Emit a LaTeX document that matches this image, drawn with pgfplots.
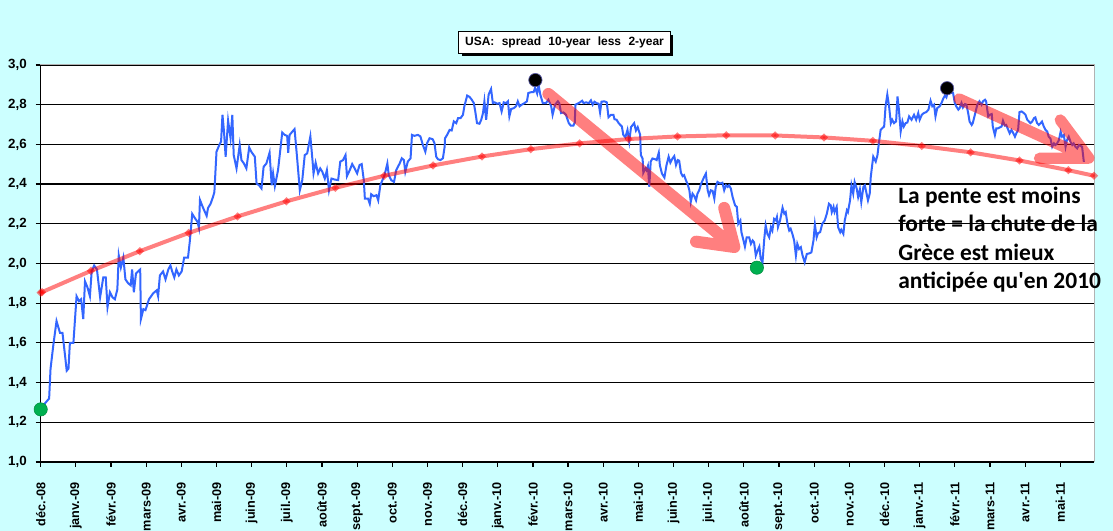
\documentclass[border=0pt]{standalone}
\usepackage{fontspec}
\setmainfont{Liberation Sans}
\newfontfamily\carlito{Carlito}[Ligatures=TeXOff]
\usepackage{pgfplots}
\pgfplotsset{compat=1.18}
\definecolor{bgcyan}{HTML}{CCFFFF}
\definecolor{lineblue}{HTML}{3366FF}
\definecolor{dotgreen}{HTML}{00B050}
\newcommand\wsp{\hspace{5.5pt}}
\begin{document}
\begin{tikzpicture}
\fill[bgcyan] (-30.525pt,-51.75pt) rectangle (804.225pt,346.5pt);
\begin{axis}[
  scale only axis, width=790pt, height=297.75pt,
  xmin=0, xmax=29.96, ymin=1, ymax=3,
  clip=false,
  xtick={0,...,29},
  xticklabels={déc.-08,janv.-09,févr.-09,mars-09,avr.-09,mai-09,juin-09,juil.-09,août-09,sept.-09,oct.-09,nov.-09,déc.-09,janv.-10,févr.-10,mars-10,avr.-10,mai-10,juin-10,juil.-10,août-10,sept.-10,oct.-10,nov.-10,déc.-10,janv.-11,févr.-11,mars-11,avr.-11,mai-11},
  ytick={1.0,1.2,1.4,1.6,1.8,2.0,2.2,2.4,2.6,2.8,3.0},
  /pgf/number format/fixed, /pgf/number format/fixed zerofill, /pgf/number format/precision=1, /pgf/number format/use comma,
  /pgf/number format/assume math mode=true,
  ymajorgrids, major grid style={black, line width=0.9pt},
  tick align=outside, tick pos=left, major tick length=3.75pt,
  tick style={black, line width=0.9pt},
  axis line style={draw=gray!60, line width=0.75pt},
  axis background/.style={fill=white},
  ticklabel style={font=\bfseries\fontsize{10}{12}\selectfont},
  xticklabel style={rotate=90, anchor=east, inner sep=0pt, font=\bfseries\fontsize{9.5}{11}\selectfont},
  yticklabel style={anchor=east, inner sep=0pt},
  xticklabel shift=11.5pt,
  yticklabel shift=6.5pt,
]
\addplot[lineblue, line width=1.5pt] coordinates {
(0.00,1.265) (0.12,1.295) (0.24,1.320) (0.28,1.470) (0.36,1.590) (0.45,1.710) (0.55,1.650) (0.62,1.650) (0.69,1.540) (0.74,1.460)
(0.79,1.470) (0.83,1.600) (0.93,1.600) (1.02,1.835) (1.09,1.810) (1.15,1.820) (1.21,1.720) (1.26,1.910) (1.33,1.880) (1.40,1.835)
(1.45,1.960) (1.52,1.990) (1.60,1.970) (1.69,1.830) (1.78,1.930) (1.85,1.930) (1.90,1.780) (1.97,1.855) (2.04,1.830) (2.11,1.820)
(2.18,1.870) (2.22,2.040) (2.28,1.980) (2.35,2.030) (2.41,1.920) (2.49,1.900) (2.56,1.890) (2.60,1.970) (2.65,1.855) (2.71,1.950)
(2.77,1.960) (2.83,1.970) (2.85,1.720) (2.92,1.770) (2.98,1.765) (3.08,1.820) (3.20,1.850) (3.30,1.865) (3.34,1.835) (3.39,1.940)
(3.48,1.960) (3.55,1.920) (3.63,1.970) (3.69,1.990) (3.74,1.960) (3.80,1.930) (3.86,1.970) (3.93,1.940) (4.01,1.960) (4.08,2.030)
(4.19,2.030) (4.24,2.110) (4.31,2.250) (4.38,2.230) (4.46,2.210) (4.50,2.180) (4.53,2.320) (4.62,2.280) (4.67,2.260) (4.72,2.240)
(4.76,2.280) (4.83,2.300) (4.90,2.335)
(4.94,2.360) (5.00,2.563) (5.08,2.597) (5.13,2.614) (5.17,2.749) (5.21,2.673) (5.26,2.538) (5.33,2.720) (5.40,2.631) (5.45,2.749)
(5.49,2.546) (5.57,2.479) (5.61,2.530) (5.66,2.597) (5.71,2.521) (5.78,2.504) (5.85,2.479) (5.93,2.585) (5.99,2.563) (6.09,2.538)
(6.14,2.403) (6.21,2.394) (6.28,2.378) (6.34,2.487) (6.42,2.504) (6.51,2.558) (6.57,2.394) (6.61,2.454) (6.66,2.389) (6.75,2.470)
(6.82,2.580) (6.87,2.660) (6.94,2.648) (7.01,2.643) (7.04,2.558) (7.08,2.648) (7.16,2.665) (7.22,2.677) (7.29,2.538) (7.37,2.369)
(7.44,2.420) (7.51,2.546) (7.58,2.555) (7.67,2.640) (7.73,2.521) (7.76,2.454) (7.82,2.508) (7.89,2.454) (7.95,2.479) (8.01,2.462)
(8.08,2.428) (8.14,2.470) (8.20,2.369) (8.27,2.428) (8.36,2.423) (8.46,2.420) (8.52,2.513) (8.60,2.521) (8.67,2.546) (8.71,2.440)
(8.79,2.470) (8.86,2.501) (8.93,2.479) (9.00,2.454) (9.07,2.496) (9.13,2.501) (9.19,2.420) (9.22,2.327) (9.31,2.327) (9.36,2.301)
(9.40,2.349) (9.47,2.339) (9.55,2.344) (9.60,2.318) (9.66,2.394) (9.72,2.420)
(9.78,2.445) (9.86,2.504) (9.90,2.445) (9.97,2.420) (10.05,2.411) (10.11,2.470) (10.21,2.504) (10.27,2.530) (10.33,2.521) (10.37,2.462)
(10.44,2.513) (10.52,2.530) (10.56,2.648) (10.63,2.643) (10.73,2.648) (10.80,2.640) (10.87,2.597) (10.94,2.563) (10.99,2.606) (11.06,2.631)
(11.15,2.626) (11.20,2.606) (11.25,2.538) (11.30,2.525) (11.37,2.521) (11.44,2.530) (11.49,2.589) (11.50,2.631) (11.56,2.648) (11.63,2.673)
(11.69,2.670) (11.75,2.716) (11.82,2.707) (11.87,2.732) (11.94,2.732) (12.01,2.749) (12.05,2.792) (12.13,2.846) (12.20,2.839) (12.26,2.825)
(12.32,2.808) (12.36,2.766) (12.41,2.707) (12.48,2.704) (12.53,2.724) (12.58,2.758) (12.62,2.817) (12.67,2.724) (12.74,2.851) (12.81,2.879)
(12.86,2.808) (12.91,2.812) (12.98,2.805) (13.05,2.808) (13.11,2.766) (13.17,2.812) (13.24,2.808) (13.29,2.817) (13.33,2.741) (13.38,2.778)
(13.46,2.783) (13.52,2.792) (13.57,2.817) (13.62,2.792) (13.68,2.800) (13.76,2.808) (13.83,2.817) (13.87,2.859) (13.95,2.863) (14.02,2.863)
(14.06,2.885) (14.12,2.856) (14.16,2.900) (14.21,2.851) (14.28,2.808) (14.37,2.808) (14.44,2.825) (14.52,2.792) (14.56,2.749) (14.63,2.800)
(14.71,2.817)
(14.75,2.808) (14.80,2.758) (14.87,2.761) (14.94,2.749) (15.02,2.707) (15.08,2.694) (15.15,2.694) (15.19,2.710) (15.21,2.800) (15.27,2.805)
(15.34,2.812) (15.40,2.820) (15.44,2.808) (15.51,2.812) (15.59,2.808) (15.65,2.822) (15.70,2.800) (15.75,2.815) (15.81,2.808) (15.87,2.805)
(15.91,2.761) (15.95,2.815) (16.03,2.817) (16.10,2.812) (16.15,2.737) (16.22,2.749) (16.29,2.749) (16.32,2.727) (16.38,2.724) (16.44,2.707)
(16.48,2.699) (16.53,2.690) (16.57,2.648) (16.63,2.636) (16.69,2.673) (16.74,2.614) (16.79,2.687) (16.88,2.707) (16.93,2.670) (16.98,2.687)
(17.05,2.648) (17.07,2.546) (17.12,2.529) (17.14,2.457) (17.20,2.479) (17.23,2.470) (17.27,2.491) (17.31,2.386) (17.35,2.513) (17.40,2.529)
(17.48,2.525) (17.52,2.521) (17.58,2.558) (17.61,2.496) (17.67,2.453) (17.74,2.433) (17.80,2.496) (17.86,2.538) (17.91,2.508) (17.97,2.529)
(18.02,2.541) (18.07,2.496) (18.12,2.521) (18.16,2.518) (18.21,2.457) (18.26,2.440) (18.30,2.445) (18.35,2.420) (18.40,2.400) (18.45,2.369)
(18.49,2.310) (18.54,2.352) (18.59,2.339) (18.64,2.318) (18.68,2.352) (18.73,2.369) (18.78,2.400) (18.83,2.420) (18.87,2.436) (18.92,2.453)
(18.97,2.369) (19.01,2.344) (19.06,2.369) (19.11,2.366) (19.16,2.327) (19.20,2.386) (19.25,2.411) (19.32,2.403) (19.39,2.407) (19.44,2.369)
(19.49,2.394) (19.54,2.386) (19.58,2.394) (19.63,2.377) (19.68,2.335) (19.75,2.293)
(19.80,2.285) (19.84,2.200) (19.90,2.217) (19.93,2.158) (19.99,2.116) (20.03,2.085) (20.08,2.132) (20.15,2.132) (20.20,2.099) (20.25,2.116)
(20.29,2.107) (20.34,2.040) (20.39,2.065) (20.44,2.085) (20.48,2.023) (20.53,2.006) (20.58,2.124) (20.62,2.192) (20.67,2.149) (20.72,2.132)
(20.77,2.183) (20.81,2.166) (20.86,2.225) (20.91,2.217) (20.94,2.234) (20.97,2.183) (21.03,2.217) (21.10,2.281) (21.15,2.251) (21.19,2.259)
(21.24,2.200) (21.29,2.166) (21.33,2.175) (21.38,2.149) (21.43,2.116) (21.48,2.040) (21.52,2.099) (21.57,2.073) (21.62,2.082) (21.67,2.040)
(21.73,2.006) (21.79,2.048) (21.86,2.051) (21.92,2.056) (21.98,2.116) (22.02,2.197) (22.07,2.132) (22.11,2.153) (22.17,2.158) (22.23,2.200)
(22.30,2.217) (22.36,2.251) (22.42,2.301) (22.47,2.293) (22.50,2.259) (22.55,2.285) (22.58,2.259) (22.64,2.285) (22.68,2.183) (22.74,2.158)
(22.77,2.170) (22.83,2.149) (22.87,2.217) (22.93,2.268) (22.96,2.259) (23.02,2.318) (23.06,2.394) (23.11,2.352) (23.15,2.411) (23.21,2.377)
(23.25,2.335) (23.30,2.373) (23.34,2.310) (23.40,2.386) (23.44,2.394) (23.49,2.352) (23.53,2.318) (23.58,2.352) (23.61,2.437) (23.65,2.496)
(23.68,2.538) (23.75,2.513) (23.80,2.546) (23.84,2.606) (23.89,2.673) (23.94,2.682) (23.99,2.690) (24.03,2.792) (24.08,2.851) (24.13,2.792)
(24.18,2.707) (24.22,2.724) (24.27,2.707) (24.33,2.716) (24.37,2.842) (24.41,2.775) (24.46,2.665) (24.51,2.716) (24.55,2.690) (24.60,2.707)
(24.65,2.710)
(24.70,2.741) (24.77,2.724) (24.84,2.749) (24.90,2.724) (24.96,2.758) (25.00,2.724) (25.06,2.749) (25.12,2.758) (25.19,2.763) (25.25,2.775)
(25.31,2.820) (25.36,2.792) (25.41,2.800) (25.45,2.741) (25.50,2.783) (25.57,2.792) (25.62,2.808) (25.67,2.830) (25.72,2.847) (25.76,2.837)
(25.81,2.868) (25.88,2.859) (25.95,2.859) (26.00,2.808) (26.04,2.792) (26.10,2.775) (26.14,2.783) (26.19,2.808) (26.23,2.786) (26.29,2.803)
(26.33,2.800) (26.38,2.758) (26.42,2.715) (26.48,2.698) (26.51,2.707) (26.57,2.749) (26.64,2.800) (26.70,2.817) (26.76,2.800) (26.80,2.817)
(26.86,2.825) (26.89,2.817) (26.95,2.741) (26.99,2.749) (27.05,2.753) (27.08,2.690) (27.14,2.647) (27.18,2.681) (27.23,2.681) (27.27,2.685)
(27.33,2.690) (27.37,2.719) (27.42,2.695) (27.46,2.698) (27.52,2.673) (27.56,2.656) (27.61,2.673) (27.65,2.661) (27.71,2.639) (27.75,2.656)
(27.80,2.673) (27.84,2.763) (27.90,2.766) (27.96,2.758) (28.01,2.749) (28.06,2.724) (28.11,2.715) (28.15,2.707) (28.20,2.715) (28.25,2.732)
(28.29,2.736) (28.34,2.707) (28.39,2.698) (28.44,2.707) (28.48,2.715) (28.53,2.690) (28.58,2.673) (28.63,2.664) (28.67,2.639) (28.72,2.630)
(28.77,2.588) (28.82,2.605) (28.86,2.597) (28.91,2.605) (28.96,2.622) (29.01,2.664) (29.05,2.639) (29.10,2.647) (29.15,2.588) (29.19,2.622)
(29.24,2.639) (29.29,2.613) (29.34,2.597) (29.38,2.605) (29.43,2.588) (29.48,2.580) (29.53,2.597) (29.57,2.593) (29.62,2.588) (29.67,2.512)
};
% polynomial trend line
\addplot[red, opacity=0.5, line width=3pt, mark=*, mark size=1pt, mark options={draw=none, fill=red, fill opacity=0.35}] coordinates {
(0.00,1.853) (0.04,1.856) (1.43,1.963) (2.82,2.062) (4.21,2.154) (5.60,2.237) (6.99,2.313) (8.38,2.381) (9.77,2.442)
(11.16,2.494) (12.55,2.539) (13.94,2.576) (15.33,2.605) (16.72,2.627) (18.11,2.640) (19.50,2.646) (20.89,2.645)
(22.28,2.635) (23.67,2.618) (25.06,2.592) (26.45,2.560) (27.84,2.519) (29.23,2.470) (29.96,2.442)
};
% arrows
\draw[red, opacity=0.5, line width=9pt, line cap=round, line join=round]
  (axis cs:14.44,2.854) -- (axis cs:19.73,2.083)
  (axis cs:19.44,2.280) -- (axis cs:19.73,2.083) -- (axis cs:18.64,2.110);
\draw[red, opacity=0.5, line width=8.5pt, line cap=round, line join=round]
  (axis cs:26.12,2.829) -- (axis cs:29.81,2.531)
  (axis cs:29.00,2.723) -- (axis cs:29.81,2.531) -- (axis cs:28.41,2.530);
\draw[black, line width=1pt] (rel axis cs:0,1) -- (rel axis cs:0,0) -- (rel axis cs:1,0);
\addplot[only marks, mark=*, mark size=5pt, dotgreen, mark options={draw=dotgreen!80!black, line width=0.4pt}] coordinates {(0,1.265) (20.37,1.979)};
\addplot[only marks, mark=*, mark size=5pt, black, mark options={draw=gray!70!blue, line width=0.5pt}] coordinates {(14.07,2.924) (25.78,2.883)};
\end{axis}
% title box with shadow
\fill[black] (316pt,304.2pt) rectangle (474.2pt,320.4pt);
\filldraw[fill=white, draw=black, line width=0.75pt] (313.7pt,306.5pt) rectangle (472pt,322.7pt);
\node[font=\bfseries\fontsize{9}{10}\selectfont, inner sep=0pt] at (392.85pt,314.6pt) {USA:\wsp spread\wsp 10-year\wsp less\wsp 2-year};
% annotation
\node[anchor=north west, inner sep=0pt, align=left, font=\carlito\bfseries\fontsize{17.6}{21.4}\selectfont] at (643pt,206.5pt)
 {La pente est moins\\forte = la chute de la\\Grèce est mieux\\anticipée qu'en 2010};
\pgfresetboundingbox
\path[use as bounding box] (-30.525pt,-51.75pt) rectangle (804.225pt,346.5pt);
\end{tikzpicture}
\end{document}
